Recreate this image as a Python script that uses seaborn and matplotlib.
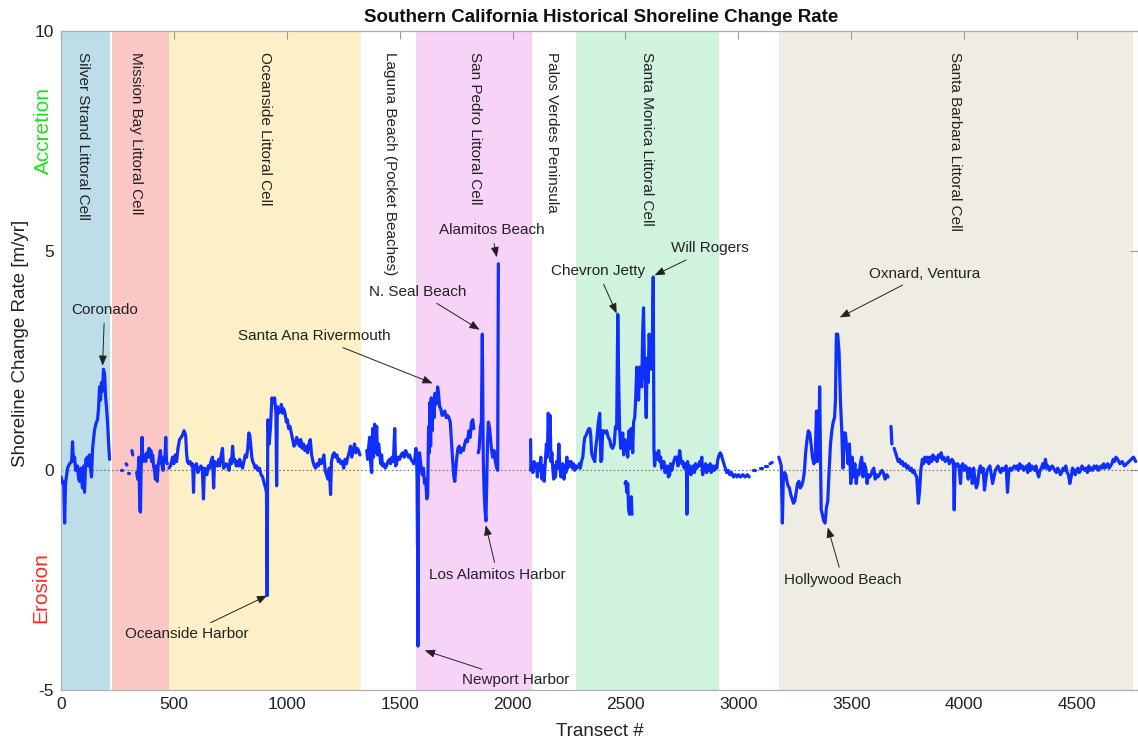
import numpy as np
import pandas as pd
import matplotlib
matplotlib.use("Agg")
import matplotlib.pyplot as plt
import seaborn as sns

# ---------------- data (transect #, rate m/yr); None = gap in the record ----------------
silver_strand = [(0,-0.15),(7,-0.3),(12,-0.25),(16,-1.2),(20,-0.3),(29,0.05),(38,0.15),(47,0.2),(51,0.65),(55,0.2),
                 (60,0.3),(65,0.0),(73,0.1),(78,-0.2),(82,-0.25),(88,0.05),(95,-0.4),(100,0.1),(104,-0.5),(110,0.25),
                 (117,0.3),(122,0.1),(126,0.35),(130,0.1),(135,-0.15),(140,0.5),(148,0.9),(152,1.0),(157,1.1),(162,1.15),
                 (166,1.4),(171,1.9),(175,1.6),(179,2.0),(184,1.8),(188,2.3),(193,2.2),(197,1.7),(202,1.4),(206,1.1),
                 (210,0.7),(215,0.25),None]

mission_bay = [(264,0.0),(272,0.0),None,(288,0.15),(292,0.12),None,(298,-0.05),(302,-0.05),None,(314,0.45),(318,0.35),None,
               (335,-0.05),(340,-0.2),(345,0.3),(349,-0.9),(352,-0.95),(355,0.1),(359,0.75),(362,0.2),(366,0.3),(370,0.35),
               (375,0.2),(380,0.4),(385,0.3),(390,0.5),(394,0.3),(398,0.45),(402,0.2),(406,0.35),(410,0.1),(414,0.0),
               (418,-0.2),(422,0.1),(426,-0.25),(430,0.1),(436,0.3),(440,0.45),(444,0.2),(448,0.1),(452,0.0),(456,0.3),
               (460,0.2),(464,0.75),(467,0.2),(471,0.15),None]

oceanside = [(478,0.05),(485,0.1),(494,0.3),(500,0.15),(506,0.35),(512,0.2),(518,0.5),(525,0.7),(532,0.75),(538,0.8),
             (545,0.9),(552,0.8),(556,0.4),(560,0.2),(566,0.15),(572,0.2),(578,0.1),(583,0.15),(587,-0.5),(590,0.1),
             (596,0.05),(600,0.15),(606,-0.05),(614,0.05),(620,0.1),(626,0.0),(631,-0.65),(635,0.05),(640,0.0),(646,-0.1),
             (652,0.1),(658,0.05),(664,0.2),(671,0.3),(676,-0.4),(680,0.2),(686,0.15),(692,0.1),(698,0.25),(702,0.1),
             (708,0.3),(715,0.5),(720,0.05),(726,0.1),(732,0.15),(738,0.1),(744,0.0),(750,0.25),(755,0.15),(760,0.55),
             (765,0.2),(770,0.25),(776,0.1),(782,0.2),(788,0.1),(791,0.25),(797,0.15),(804,0.05),(810,0.2),(816,0.35),
             (822,0.3),(827,0.5),(832,0.85),(836,0.8),(840,0.6),(845,0.3),(849,0.2),(854,0.15),(860,0.05),(866,0.1),
             (872,0.0),(879,0.05),(886,-0.1),(893,-0.15),(900,-0.3),(906,-0.4),(910,-0.5),(913,-2.85),(916,1.15),(922,0.6),
             (928,1.0),(934,1.65),(940,1.55),(946,1.65),(952,1.3),(955,-0.35),(958,1.45),(964,1.3),(970,1.35),(976,1.5),
             (981,1.3),(986,1.4),(992,1.3),(998,1.1),(1003,1.15),(1008,0.95),(1014,1.0),(1020,0.85),(1026,0.7),(1032,0.55),
             (1038,0.6),(1044,0.75),(1050,0.65),(1056,0.55),(1062,0.7),(1068,0.5),(1074,0.6),(1080,0.45),(1086,0.55),(1092,0.4),
             (1098,0.6),(1104,0.7),(1110,0.35),(1116,0.2),(1122,0.1),(1128,0.05),(1134,0.15),(1140,0.1),(1146,0.25),(1152,0.15),
             (1158,0.2),(1164,0.35),(1170,0.0),(1176,-0.1),(1182,-0.2),(1188,0.05),(1194,-0.55),(1198,0.2),(1204,0.35),(1210,0.4),
             (1216,0.3),(1222,0.35),(1228,0.2),(1234,0.25),(1240,0.15),(1246,0.2),(1252,0.05),(1258,0.25),(1264,0.15),(1270,0.3),
             (1276,0.4),(1282,0.55),(1288,0.3),(1294,0.45),(1300,0.6),(1306,0.4),(1312,0.5),(1318,0.45),(1324,0.35),None]

laguna = [(1354,0.45),(1358,0.25),(1362,0.5),(1367,0.75),(1371,0.2),(1376,-0.05),(1380,0.95),(1384,0.3),(1389,1.05),(1393,0.4),
          (1398,1.0),(1402,0.35),(1407,0.6),(1411,0.4),(1416,0.15),(1420,0.35),(1424,0.1),(1430,0.15),(1436,0.05),(1442,0.1),
          (1448,0.2),(1455,0.25),(1460,0.15),(1466,0.3),(1472,0.2),(1478,0.95),(1482,0.1),(1486,0.15),(1492,0.3),(1500,0.25),
          (1506,0.35),(1513,0.4),(1520,0.3),(1526,0.45),(1531,0.4),(1538,0.3),(1544,0.35),(1550,0.25),(1557,0.2),(1562,0.15)]

san_pedro = [(1566,0.2),(1572,0.5),(1575,0.3),(1577,-0.2),(1578,-1.1),(1579,-1.7),(1580,-1.0),(1581,-4.0),(1583,0.3),(1588,0.4),
             (1594,0.1),(1600,-0.1),(1605,0.05),(1610,-0.3),(1615,-0.2),(1620,-0.65),(1624,-0.55),(1628,1.0),(1631,0.4),(1634,1.55),
             (1637,0.55),(1640,1.65),(1644,0.9),(1648,1.6),(1652,1.2),(1656,1.75),(1660,1.5),(1664,1.6),(1668,1.9),(1672,1.75),
             (1677,1.45),(1682,1.4),(1688,1.25),(1694,1.3),(1700,1.35),(1706,1.2),(1712,1.25),(1718,1.2),(1724,1.1),(1730,0.6),
             (1735,0.2),(1740,-0.15),(1744,-0.25),(1748,0.0),(1752,0.25),(1758,0.5),(1764,0.55),(1770,0.4),(1776,0.5),(1782,0.45),
             (1788,0.6),(1794,0.7),(1800,0.65),(1806,0.9),(1812,0.75),(1818,1.1),(1824,1.15),(1828,0.95),None,
             (1848,0.4),(1852,0.5),(1858,1.0),(1862,1.1),(1866,3.1),(1870,0.3),(1874,-0.5),(1878,-0.9),(1882,-1.15),(1885,-0.4),
             (1889,0.6),(1893,1.1),(1897,1.0),(1901,0.8),(1906,0.5),(1912,0.3),(1918,0.45),(1924,0.2),(1930,0.05),(1934,0.0),
             (1937,4.7),None]

palos_verdes = [(2080,0.7),(2081,0.0),(2086,0.1),(2090,-0.05),(2095,0.2),(2100,0.1),(2105,0.15),(2110,-0.15),(2115,0.15),(2120,0.0),
                (2125,0.3),(2130,-0.2),(2135,0.1),(2140,-0.25),(2145,0.2),(2150,0.6),(2154,0.3),(2158,1.3),(2162,0.6),(2166,1.25),
                (2170,0.2),(2174,0.4),(2178,0.05),(2182,-0.2),(2186,0.1),(2190,-0.15),(2195,0.2),(2200,0.05),(2205,0.6),(2209,0.1),
                (2214,-0.15),(2218,0.05),(2222,0.15),(2228,-0.2),(2232,0.1),(2236,-0.05),(2240,0.3),(2245,0.05),(2250,0.2),(2255,0.1),
                (2260,0.2),(2265,0.05),(2270,0.15),(2275,0.0),(2280,0.1),(2285,0.05),(2290,0.1)]

santa_monica = [(2295,0.15),(2300,0.05),(2305,0.2),(2311,0.3),(2316,0.6),(2320,0.75),(2326,0.8),(2333,0.9),(2338,0.95),(2342,0.95),
                (2346,0.8),(2350,0.4),(2355,0.3),(2360,0.25),(2364,0.2),(2368,0.5),(2373,0.7),(2380,1.1),(2386,1.3),(2391,0.2),
                (2395,0.25),(2399,0.9),(2404,0.9),(2410,0.85),(2417,0.9),(2424,0.75),(2430,0.7),(2436,0.55),(2443,0.5),(2450,0.6),
                (2456,1.0),(2461,0.95),(2466,3.55),(2470,2.0),(2474,0.95),(2479,0.5),(2483,0.65),(2488,0.85),(2492,0.35),(2497,0.7),
                (2505,0.6),(2510,0.3),(2515,0.9),(2520,0.5),(2524,0.95),(2528,0.9),(2532,0.4),(2536,1.1),(2541,1.2),(2545,1.6),
                (2550,2.35),(2554,2.2),(2558,1.6),(2563,2.35),(2568,2.0),(2572,1.9),(2576,3.1),(2580,3.7),(2584,2.4),(2588,2.0),
                (2592,1.2),(2596,2.55),(2600,2.0),(2605,3.1),(2610,2.5),(2615,2.3),(2619,2.9),(2623,4.4),(2626,0.5),(2629,0.1),
                (2634,0.4),(2638,0.3),(2642,0.25),(2647,0.45),(2652,0.2),(2656,0.3),(2660,0.05),(2665,0.1),(2670,0.2),(2675,-0.05),
                (2680,0.0),(2685,0.1),(2690,-0.15),(2696,-0.1),(2700,0.15),(2705,0.0),(2709,0.1),(2714,0.2),(2720,0.3),(2727,0.3),
                (2733,0.1),(2740,0.45),(2745,0.25),(2750,0.15),(2754,0.2),(2760,0.05),(2765,0.15),(2770,0.1),(2772,-1.0),(2775,0.2),
                (2780,-0.05),(2785,0.1),(2790,-0.1),(2795,0.05),(2800,0.1),(2805,-0.05),(2810,0.15),(2816,0.05),(2822,0.1),(2829,0.2),
                (2834,0.1),(2838,0.3),(2842,-0.1),(2846,0.05),(2850,0.0),(2855,0.15),(2860,-0.05),(2865,0.1),(2870,0.0),(2875,0.15),
                (2880,-0.05),(2887,0.1),(2893,0.0),(2900,0.1),(2905,0.05),(2909,0.25),(2915,0.35),(2920,0.4),(2925,0.35),(2930,0.25),
                (2936,0.15),(2942,0.05),(2948,-0.05),(2955,0.0),(2962,-0.1),(2970,-0.05),(2978,-0.15),(2986,-0.1),(2994,-0.15),(3000,-0.1),
                (3010,-0.15),(3020,-0.1),(3030,-0.15),(3040,-0.1),(3048,-0.15),None,(3065,0.0),(3073,0.0),None,(3095,0.05),(3105,0.05),None,
                (3120,0.1),(3128,0.1),None,(3140,0.15),(3150,0.18),None]

santa_monica_low = [(2498,-0.3),(2502,-0.25),(2506,-0.5),(2510,-0.3),(2514,-0.9),(2518,-1.0),(2522,-0.95),(2526,-0.6),(2529,-1.0),None]

santa_barbara_south = [(3179,0.3),(3185,0.2),(3190,0.1),(3195,-1.2),(3199,-0.2),(3204,-0.05),(3210,-0.1),(3215,-0.25),(3220,-0.35),(3226,-0.4),
                       (3232,-0.55),(3238,-0.65),(3244,-0.75),(3250,-0.7),(3256,-0.5),(3262,-0.3),(3268,-0.25),(3274,-0.4),(3280,-0.35),(3286,-0.25),
                       (3292,-0.05),(3298,0.4),(3304,0.7),(3310,0.9),(3316,0.85),(3322,0.6),(3328,0.3),(3334,0.15),(3340,0.2),(3346,1.35),
                       (3350,0.2),(3356,0.3),(3360,1.9),(3364,0.2),(3367,-0.9),(3372,-1.0),(3378,-1.15),(3384,-1.2),(3390,-0.85),(3396,-0.7),
                       (3402,0.0),(3408,0.6),(3414,0.9),(3420,1.1),(3426,1.2),(3430,1.6),(3434,3.1),(3440,3.1),(3446,2.7),(3452,1.6),
                       (3458,0.9),(3463,0.05),(3468,0.85),(3474,0.85),(3480,0.5),(3486,0.15),(3492,0.6),(3498,-0.3),(3504,0.3),(3510,-0.15),
                       (3516,0.15),(3522,-0.3),(3528,0.0),(3534,-0.1),(3540,0.15),(3546,0.3),(3552,-0.15),(3558,0.15),(3564,0.05),(3570,-0.3),
                       (3576,-0.1),(3582,-0.15),(3588,-0.1),(3594,0.0),(3600,0.05),(3606,-0.2),(3612,-0.1),(3618,-0.15),(3624,-0.1),(3630,-0.05),
                       (3636,0.0),(3642,-0.05),(3650,-0.2),(3658,-0.1),(3663,-0.15),None,(3676,1.0),(3680,0.6),None]

santa_barbara_north = [(3690,0.5),(3696,0.4),(3702,0.3),(3708,0.2),(3714,0.25),(3720,0.15),(3726,0.2),(3732,0.1),(3740,0.15),(3746,0.05),
                       (3752,0.1),(3760,0.0),(3766,0.05),(3772,-0.05),(3778,0.0),(3784,-0.1),(3790,-0.15),(3797,-0.75),(3803,-0.45),(3808,0.0),
                       (3815,0.25),(3820,0.15),(3826,0.3),(3832,0.2),(3838,0.3),(3844,0.15),(3850,0.3),(3856,0.2),(3862,0.35),(3868,0.25),
                       (3874,0.3),(3880,0.2),(3886,0.35),(3892,0.3),(3898,0.4),(3904,0.25),(3910,0.3),(3916,0.2),(3922,0.25),(3928,0.3),
                       (3934,0.15),(3940,0.2),(3946,0.25),(3952,0.2),(3956,-0.9),(3960,0.15),(3966,0.1),(3972,0.15),(3978,0.05),(3984,-0.3),
                       (3988,0.1),(3994,0.15),(4000,0.0),(4006,0.1),(4012,0.05),(4018,-0.2),(4024,0.05),(4030,0.0),(4036,-0.3),(4042,0.05),
                       (4048,-0.2),(4054,-0.4),(4060,-0.3),(4066,0.0),(4072,0.1),(4078,-0.05),(4084,0.05),(4090,-0.45),(4096,-0.2),(4102,0.0),
                       (4108,0.05),(4114,0.1),(4120,-0.1),(4126,-0.3),(4132,-0.15),(4138,0.0),(4144,0.05),(4150,0.1),(4156,0.0),(4162,-0.05),
                       (4168,0.05),(4174,0.0),(4180,0.05),(4186,0.1),(4192,-0.5),(4198,0.0),(4204,0.05),(4210,0.0),(4216,0.05),(4222,0.1),
                       (4228,0.05),(4234,0.1),(4240,0.0),(4246,0.15),(4252,0.05),(4258,0.1),(4264,0.0),(4270,0.05),(4276,0.1),(4282,-0.05),
                       (4288,0.15),(4294,0.0),(4300,0.1),(4306,0.05),(4312,0.0),(4318,0.1),(4324,-0.05),(4330,-0.15),(4336,0.0),(4342,0.05),
                       (4348,0.15),(4354,0.05),(4360,0.25),(4366,0.05),(4372,0.1),(4378,0.0),(4384,0.05),(4390,0.1),(4396,0.05),(4402,0.0),
                       (4408,-0.05),(4414,0.05),(4420,0.0),(4426,-0.1),(4432,-0.05),(4438,0.05),(4444,0.0),(4450,0.1),(4456,-0.05),(4462,-0.1),
                       (4468,-0.3),(4474,-0.15),(4480,0.05),(4486,0.0),(4492,-0.1),(4498,0.0),(4504,0.05),(4510,-0.05),(4516,0.0),(4522,0.1),
                       (4528,0.05),(4534,0.0),(4540,0.05),(4546,-0.05),(4552,0.1),(4558,0.0),(4564,0.05),(4570,0.0),(4576,0.1),(4582,0.05),
                       (4588,0.1),(4594,0.0),(4600,0.05),(4606,0.1),(4612,0.05),(4618,0.15),(4624,0.05),(4630,0.1),(4636,0.15),(4642,0.05),
                       (4648,0.1),(4654,0.15),(4660,0.25),(4666,0.2),(4672,0.3),(4680,0.25),(4690,0.15),(4700,0.2),(4710,0.1),(4720,0.15),
                       (4730,0.2),(4740,0.25),(4750,0.3),(4760,0.2)]

# littoral cells (shaded bands) and labels
band_start = [0, 228, 480, 1574, 2280, 3179]
band_end = [216, 480, 1330, 2088, 2913, 4748]
band_colors = ["#bddde8", "#fbc7c4", "#fdf0c7", "#f8d3f8", "#cff3dc", "#efece4"]

cell_labels = ["Silver Strand Littoral Cell", "Mission Bay Littoral Cell", "Oceanside Littoral Cell",
               "Laguna Beach (Pocket Beaches)", "San Pedro Littoral Cell", "Palos Verdes Peninsula",
               "Santa Monica Littoral Cell", "Santa Barbara Littoral Cell"]
cell_label_x = [96, 334, 902, 1455, 1832, 2173, 2594, 3958]

# annotations: label, text position (transect, rate), arrow tip (transect, rate)
notes = ["Coronado", "Oceanside Harbor", "Santa Ana Rivermouth", "N. Seal Beach", "Alamitos Beach",
         "Los Alamitos Harbor", "Newport Harbor", "Chevron Jetty", "Will Rogers", "Oxnard, Ventura", "Hollywood Beach"]
note_text_xy = [(193, 3.64), (557, -3.73), (1123, 3.05), (1580, 4.07), (1907, 5.46),
                (1934, -2.39), (2015, -4.78), (2378, 4.53), (2874, 5.05), (3827, 4.48), (3463, -2.5)]
note_tip_xy = [(184, 2.38), (913, -2.85), (1646, 1.98), (1854, 3.2), (1930, 4.85),
               (1881, -1.25), (1611, -4.1), (2461, 3.57), (2629, 4.44), (3449, 3.48), (3396, -1.3)]

# ---------------- build tidy frame ----------------
rows = []
seg = 0
for block in [silver_strand, mission_bay, oceanside, laguna, san_pedro, palos_verdes,
              santa_monica, santa_monica_low, santa_barbara_south, santa_barbara_north]:
    for p in block:
        if p is None:
            seg += 1
            continue
        rows.append({"transect": p[0], "rate": p[1], "segment": seg})
    seg += 1
df = pd.DataFrame(rows)

# ---------------- plot ----------------
sns.set_style("white")
plt.rcParams["font.family"] = ["Liberation Sans", "DejaVu Sans"]
plt.rcParams["axes.unicode_minus"] = False

W, H = 1138, 742
fig = plt.figure(figsize=(W / 100, H / 100), dpi=100)
ax = fig.add_axes([61 / W, 1 - 690 / H, (1138 - 61) / W, (690 - 31) / H])

for s, e, c in zip(band_start, band_end, band_colors):
    ax.axvspan(s, e, color=c, lw=0, zorder=0)

ax.axhline(0, color="#777777", ls=(0, (1.5, 2)), lw=0.8, zorder=1)

sns.lineplot(data=df, x="transect", y="rate", units="segment", estimator=None, sort=False,
             color="#0f2fff", linewidth=2.3, ax=ax, legend=False, zorder=3)

for lab, xpos in zip(cell_labels, cell_label_x):
    ax.text(xpos, 9.52, lab, rotation=270, ha="center", va="top", fontsize=11, color="#222222", zorder=4)

for lab, txy, tip in zip(notes, note_text_xy, note_tip_xy):
    ax.annotate(lab, xy=tip, xytext=txy, ha="center", va="center", fontsize=11, color="#222222", zorder=5,
                arrowprops=dict(arrowstyle="-|>,head_length=0.55,head_width=0.22", color="#222222", lw=0.7,
                                shrinkA=2, shrinkB=0))

ax.set_xlim(0, 4770)
ax.set_ylim(-5, 10)
ax.set_xticks(np.arange(0, 4501, 500))
ax.set_yticks([-5, 0, 5, 10])
ax.tick_params(direction="in", length=6, width=0.8, color="#9a9a9a", top=True, right=True,
               labelsize=12.5, labelcolor="#222222", pad=5)
for sp in ax.spines.values():
    sp.set_color("#b0b0b0")
    sp.set_linewidth(0.9)

ax.set_xlabel("Transect #", fontsize=13.5, color="#222222", labelpad=8)
ax.set_ylabel("")
fig.text(21 / W, 1 - 343 / H, "Shoreline Change Rate [m/yr]", rotation=90, ha="center", va="center",
         fontsize=13.5, color="#222222")
fig.text(43 / W, 1 - 130 / H, "Accretion", rotation=90, ha="center", va="center", fontsize=15, color="#1ee01e")
fig.text(41 / W, 1 - 588 / H, "Erosion", rotation=90, ha="center", va="center", fontsize=15, color="#ff2a2a")
fig.text(601 / W, 1 - 18 / H, "Southern California Historical Shoreline Change Rate", ha="center", va="center",
         fontsize=13.5, fontweight="bold", color="#111111")

fig.savefig("out.png", dpi=100)
